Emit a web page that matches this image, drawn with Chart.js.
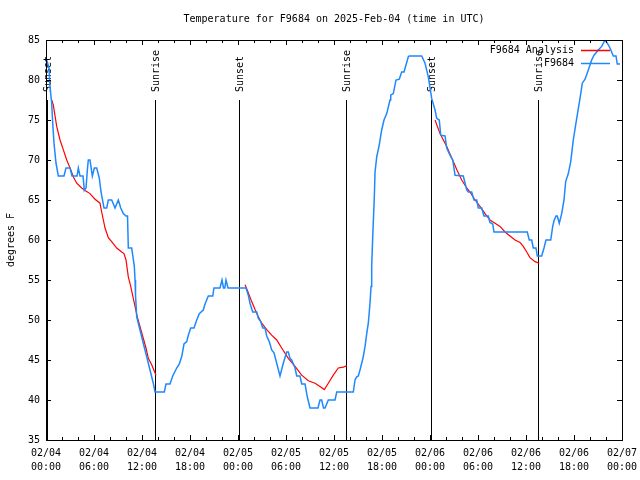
<!DOCTYPE html>
<html><head><meta charset="utf-8">
<script src="https://cdn.jsdelivr.net/npm/chart.js@4.4.1/dist/chart.umd.min.js"></script>
<style>html,body{margin:0;padding:0;background:#fff;}canvas{display:block;}</style>
</head><body>
<canvas id="c" width="640" height="480"></canvas>
<script>
const chartTitle = "Temperature for F9684 on 2025-Feb-04 (time in UTC)";
const yAxisTitle = "degrees F";
const seriesNames = ["F9684 Analysis", "F9684"];
const xTickLabels = [
  ["02/04","00:00"],["02/04","06:00"],["02/04","12:00"],["02/04","18:00"],
  ["02/05","00:00"],["02/05","06:00"],["02/05","12:00"],["02/05","18:00"],
  ["02/06","00:00"],["02/06","06:00"],["02/06","12:00"],["02/06","18:00"],
  ["02/07","00:00"]
];
const yTicks = [35,40,45,50,55,60,65,70,75,80,85];
const eventHours = [0.1, 13.67, 24.1, 37.56, 48.15, 61.54];
const eventLabels = ["Sunset","Sunrise","Sunset","Sunrise","Sunset","Sunrise"];

// observed (hours since 02/04 00:00 UTC, degrees F)
const obsHours = [
  0.08,0.38,0.5,0.71,0.84,1.0,1.25,1.54,2.25,2.5,3.0,3.25,3.88,4.04,4.25,4.63,4.79,5.0,5.19,5.29,5.5,5.79,6.04,6.34,6.66,6.88,7.25,7.59,7.79,8.21,8.63,9.04,9.34,9.66,10.0,10.19,10.29,10.71,11.04,11.13,11.19,11.34,11.75,12.16,12.59,13.0,13.41,13.63,14.79,15.0,15.5,15.84,16.34,16.66,16.96,17.25,17.59,17.79,18.09,18.5,18.84,19.16,19.66,19.88,20.29,20.84,21.0,21.75,22.0,22.19,22.35,22.5,22.75,25.0,
  25.29,25.5,25.84,26.34,26.54,26.84,27.09,27.38,27.59,27.91,28.21,28.5,28.84,29.25,29.66,30.09,30.29,30.5,30.71,31.13,31.34,31.75,31.96,32.38,32.66,33.0,34.0,34.25,34.46,34.69,34.88,35.29,36.13,36.34,38.41,38.63,38.84,39.04,39.25,39.46,39.66,39.88,40.09,40.29,40.5,40.63,40.71,40.84,41.04,41.13,41.34,41.66,41.96,42.25,42.59,43.0,43.09,43.41,43.75,44.16,44.46,44.75,45.29,45.41,46.96,47.38,47.79,48.21,48.63,48.84,49.16,49.34,49.88,50.09,50.5,50.84,51.13,52.16,52.59,52.79,53.21,53.5,53.84,54.04,54.46,54.75,55.29,55.5,55.84,56.0,60.16,60.41,60.71,60.91,61.25,61.41,61.96,62.25,62.5,63.09,63.34,63.5,63.75,63.91,64.16,64.46,64.75,64.96,65.29,65.59,65.91,66.34,66.75,67.04,67.38,67.79,68.21,68.5,69.04,69.46,69.88,70.16,70.5,70.91,71.25,71.41,71.75
];
const obsTemps = [
  82.5,81.5,79.2,77.1,74.6,72.1,69.6,68,68,69,69,68,68,69,68,68,66.2,66.5,69,70,70,68,69,69,67.75,66,64,64,65,65,64,65,64,63.3,63,63,59,59,56.7,55,53.1,50.4,48.75,47.1,45.4,43.75,42.1,41,41,42,42,43,44,44.5,45.4,47,47.3,48.1,49,49,50,50.8,51.25,52,53,53,54,54,55,54,54,55,54,54,
  53.1,52.1,51,51,50.2,49.8,49,49,48,47.3,46.25,45.9,44.6,43,44.6,46,46,45.2,45,44,43,43,42,42,40.4,39,39,40,40,39,39,40,40,41,41,42.5,42.9,43,43.75,44.6,45.4,46.7,48.3,49.6,52.1,54.2,56.7,60.4,65.4,68.5,70.4,71.9,73.75,75,75.8,77.5,78.1,78.3,80,80.1,81,81,82.9,83,83,82.1,80.4,77.7,76.25,75.2,75,73.1,73,71.5,70.6,70,68.1,68,66.25,66,66,65,65,64,64,63,63,62.2,62,61,61,60,60,59,59,58,58,59,60,60,61.7,62.4,63,63,62.1,63.3,65,67.3,68.3,69.8,72.5,75.2,77.7,79.6,80.1,81.25,82.5,83.1,83.75,84.2,85,84.6,84,83,83,82,82
];

// analysis (null = gap between night segments)
const anaHours = [
  0.71,0.91,1.34,1.75,2.16,2.59,3.09,3.41,3.84,4.46,4.88,5.5,6.13,6.75,6.96,7.38,7.79,8.21,8.84,9.46,9.75,10.0,10.29,10.59,10.91,11.13,11.41,12.5,12.79,13.21,13.75,
  19.0,
  24.88,25.29,25.71,26.13,26.54,26.96,27.59,28.21,28.84,29.46,30.29,31.13,31.96,32.79,33.63,34.25,34.79,35.29,35.91,36.54,37.16,37.59,
  43.0,
  48.63,49.25,50.09,50.91,51.34,51.96,52.59,53.0,53.63,54.25,54.88,55.5,56.13,56.75,57.38,58.0,58.63,59.25,59.66,60.09,60.5,61.13,61.66
];
const anaTemps = [
  77.5,76.9,74.2,72.5,71.3,70.0,68.8,67.9,67.1,66.5,66.2,65.8,65.1,64.6,63.5,61.5,60.3,59.8,59.0,58.5,58.3,57.5,55.4,54.2,52.7,51.7,50.4,46.5,45.2,44.4,43.1,
  null,
  54.4,53.4,52.3,51.3,50.4,49.6,48.8,48.1,47.5,46.5,45.2,44.2,43.1,42.4,42.1,41.7,41.3,42.1,43.1,44.0,44.1,44.3,
  null,
  75.0,73.3,71.7,69.8,68.8,67.5,66.5,66.0,65.0,64.2,63.3,62.5,62.1,61.7,61.0,60.5,60.0,59.7,59.2,58.5,57.8,57.3,57.1
];

const FONT = "'DejaVu Sans Mono', monospace";
const anaColor = "#ff0000";
const obsColor = "#1e88ff";

const toPts = (xs, ys) => xs.map((x, i) => ({x: x, y: ys[i]}));

const decor = {
  id: 'decor',
  beforeDatasetsDraw(chart) {
    const ctx = chart.ctx, a = chart.chartArea, xs = chart.scales.x;
    ctx.save();
    ctx.strokeStyle = '#000';
    ctx.lineWidth = 1;
    ctx.fillStyle = '#000';
    ctx.font = '10px ' + FONT;
    const topY = a.bottom - 0.85 * (a.bottom - a.top);
    eventHours.forEach((h, i) => {
      const px = Math.round(xs.getPixelForValue(h)) + 0.5;
      ctx.beginPath();
      ctx.moveTo(px, a.bottom);
      ctx.lineTo(px, topY);
      ctx.stroke();
      ctx.save();
      ctx.translate(px + 1, topY - 8);
      ctx.rotate(-Math.PI / 2);
      ctx.textAlign = 'left';
      ctx.textBaseline = 'middle';
      ctx.fillText(eventLabels[i], 0, 0);
      ctx.restore();
    });
    ctx.restore();
  },
  afterDraw(chart) {
    const ctx = chart.ctx, a = chart.chartArea, xs = chart.scales.x, ys = chart.scales.y;
    ctx.save();
    ctx.strokeStyle = '#000';
    ctx.lineWidth = 1;
    // border
    ctx.strokeRect(Math.round(a.left) + 0.5, Math.round(a.top) + 0.5, Math.round(a.right - a.left), Math.round(a.bottom - a.top));
    // x ticks (major every 6h, minor every 2h), bottom and top
    ctx.beginPath();
    for (let h = 2; h < 72; h += 2) {
      const px = Math.round(xs.getPixelForValue(h)) + 0.5;
      const len = (h % 6 === 0) ? 5 : 3;
      ctx.moveTo(px, a.bottom); ctx.lineTo(px, a.bottom - len);
      ctx.moveTo(px, a.top); ctx.lineTo(px, a.top + len);
    }
    yTicks.slice(1, -1).forEach(t => {
      const py = Math.round(ys.getPixelForValue(t)) + 0.5;
      ctx.moveTo(a.left, py); ctx.lineTo(a.left + 5, py);
      ctx.moveTo(a.right, py); ctx.lineTo(a.right - 5, py);
    });
    ctx.stroke();
    // title
    ctx.fillStyle = '#000';
    ctx.font = '10px ' + FONT;
    ctx.textAlign = 'center';
    ctx.textBaseline = 'middle';
    ctx.fillText(chartTitle, (a.left + a.right) / 2, 19);
    // y axis title
    ctx.save();
    ctx.translate(11, (a.top + a.bottom) / 2);
    ctx.rotate(-Math.PI / 2);
    ctx.fillText(yAxisTitle, 0, 0);
    ctx.restore();
    // legend (gnuplot style, top right)
    const colors = [anaColor, obsColor];
    ctx.textAlign = 'right';
    seriesNames.forEach((name, i) => {
      const ly = 50 + i * 13;
      ctx.fillStyle = '#000';
      ctx.fillText(name, 574, ly);
      ctx.strokeStyle = colors[i];
      ctx.lineWidth = 1.5;
      ctx.beginPath();
      ctx.moveTo(581, Math.round(ly) + 0.5);
      ctx.lineTo(610, Math.round(ly) + 0.5);
      ctx.stroke();
    });
    ctx.restore();
  }
};

new Chart(document.getElementById('c'), {
  type: 'line',
  data: {
    datasets: [
      { label: seriesNames[0], data: toPts(anaHours, anaTemps), borderColor: anaColor, borderWidth: 1.2,
        pointRadius: 0, tension: 0, spanGaps: false, order: 1 },
      { label: seriesNames[1], data: toPts(obsHours, obsTemps), borderColor: obsColor, borderWidth: 1.5,
        pointRadius: 0, tension: 0, order: 0 }
    ]
  },
  options: {
    responsive: false,
    animation: false,
    devicePixelRatio: 1,
    layout: { padding: { left: 0, right: 18, top: 40, bottom: 0 } },
    plugins: { legend: { display: false }, title: { display: false }, tooltip: { enabled: false } },
    scales: {
      x: {
        type: 'linear', min: 0, max: 72,
        grid: { display: false, drawTicks: false },
        border: { display: false },
        afterFit: s => { s.height = 40; s.paddingLeft = 0; s.paddingRight = 0; },
        afterBuildTicks: s => { s.ticks = xTickLabels.map((_, i) => ({ value: i * 6 })); },
        ticks: {
          maxRotation: 0, autoSkip: false, padding: 6, color: '#000',
          font: { family: FONT, size: 10, lineHeight: 1.4 },
          callback: (v) => xTickLabels[Math.round(v / 6)]
        }
      },
      y: {
        min: 35, max: 85,
        grid: { display: false, drawTicks: false },
        border: { display: false },
        afterFit: s => { s.width = 46; s.paddingTop = 0; s.paddingBottom = 0; },
        afterBuildTicks: s => { s.ticks = yTicks.map(v => ({ value: v })); },
        ticks: {
          padding: 6, color: '#000',
          font: { family: FONT, size: 10 },
          callback: (v) => String(v)
        }
      }
    }
  },
  plugins: [decor]
});
</script>
</body></html>
